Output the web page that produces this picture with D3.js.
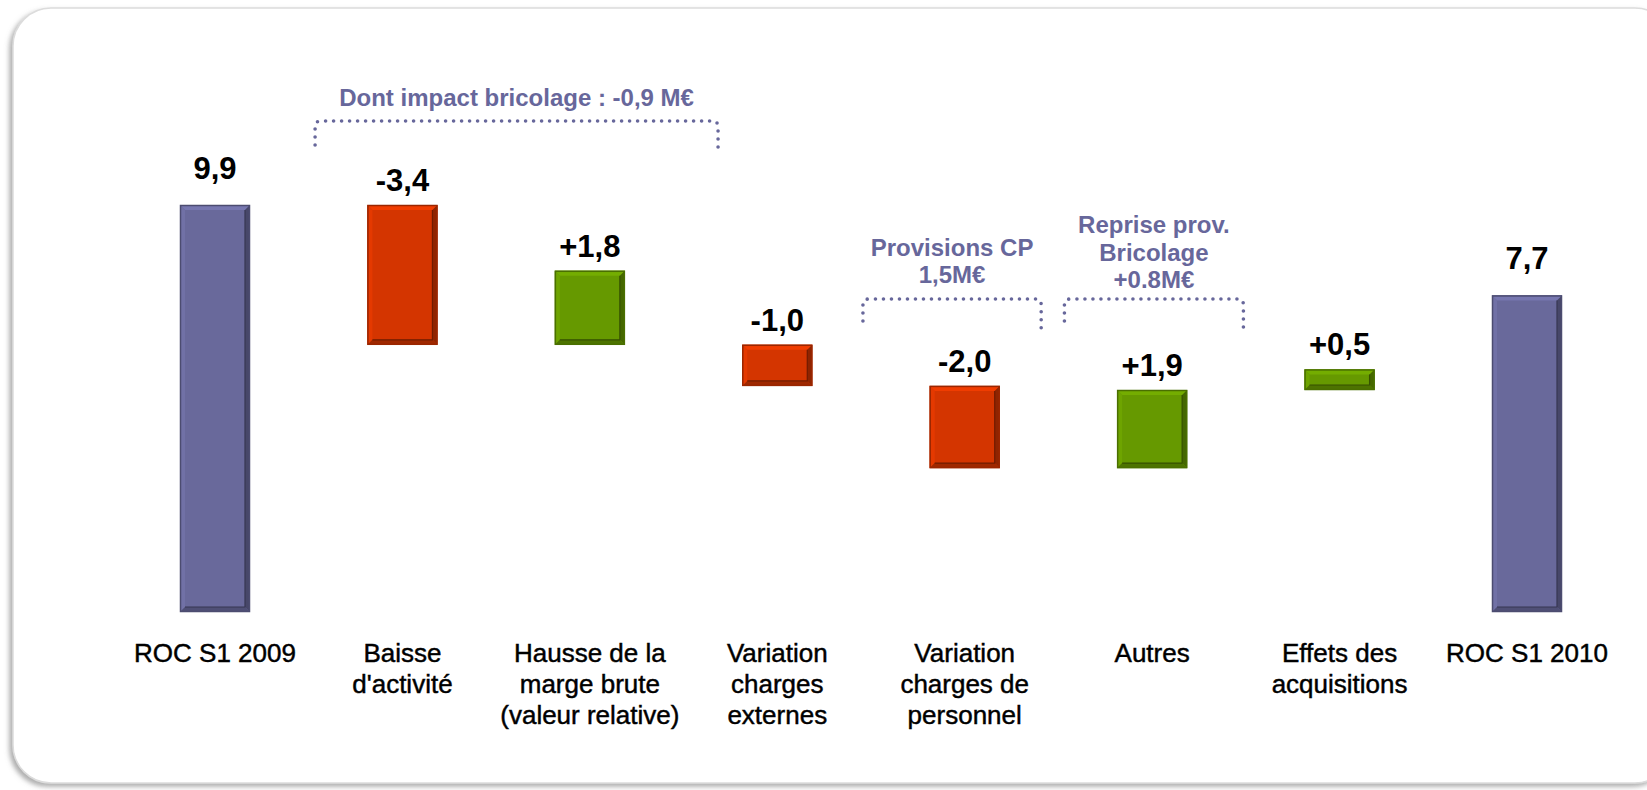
<!DOCTYPE html>
<html>
<head>
<meta charset="utf-8">
<script src="https://cdn.jsdelivr.net/npm/d3@7"></script>
<style>
  html, body { margin: 0; padding: 0; background: #fff; }
  svg { display: block; font-family: Arial, "Liberation Sans", sans-serif; }
</style>
</head>
<body>
<svg id="chart"></svg>
<script>
// categories (one entry per bar, split on line breaks)
const categories = [
  ['ROC S1 2009'],
  ['Baisse', "d'activité"],
  ['Hausse de la', 'marge brute', '(valeur relative)'],
  ['Variation', 'charges', 'externes'],
  ['Variation', 'charges de', 'personnel'],
  ['Autres'],
  ['Effets des', 'acquisitions'],
  ['ROC S1 2010']
];
// variation of each step, and the level where each bar starts (as drawn)
const values = [9.9, -3.4, 1.8, -1.0, -2.0, 1.9, 0.5, 7.7];
const starts = [0, 9.9, 6.5, 6.5, 5.5, 3.5, 5.4, 0];
const kinds = ['total', 'delta', 'delta', 'delta', 'delta', 'delta', 'delta', 'total'];

// notes above some bars
const noteTexts = [
  ['Dont impact bricolage : -0,9 M€'],
  ['Provisions CP', '1,5M€'],
  ['Reprise prov.', 'Bricolage', '+0.8M€']
];

const width = 1647;
const height = 790;

const colors = { total: '#69699b', down: '#d43500', up: '#669900' };
const noteColor = '#67679b';

const svg = d3.select('#chart').attr('width', width).attr('height', height);

// frame
const defs = svg.append('defs');
const shadow = defs.append('filter').attr('id', 'shadow')
  .attr('x', '-5%').attr('y', '-5%').attr('width', '110%').attr('height', '110%');
shadow.append('feDropShadow')
  .attr('dx', -3).attr('dy', 3).attr('stdDeviation', 2.5)
  .attr('flood-color', '#777').attr('flood-opacity', 0.6);

svg.append('rect')
  .attr('x', 13).attr('y', 8)
  .attr('width', 1660).attr('height', 775)
  .attr('rx', 38)
  .attr('fill', '#fff')
  .attr('stroke', '#dcdcdc')
  .attr('stroke-width', 1.5)
  .attr('filter', 'url(#shadow)');

const x = d3.scalePoint()
  .domain(d3.range(categories.length))
  .range([215, 1527]);
// fractional positions (in category units) for the notes
const xi = d3.scaleLinear().domain([0, categories.length - 1]).range(x.range());

const y = d3.scaleLinear().domain([0, 9.9]).range([612, 205]);

const barW = 70;

const bars = values.map((v, i) => {
  const a = starts[i], b = starts[i] + v;
  const kind = kinds[i];
  const col = kind === 'total' ? colors.total : (v < 0 ? colors.down : colors.up);
  return { i, v, kind, col, top: y(Math.max(a, b)), bottom: y(Math.min(a, b)) };
});

const g = svg.append('g');

bars.forEach(d => {
  const x0 = x(d.i) - barW / 2, x1 = x(d.i) + barW / 2;
  const y0 = d.top, y1 = d.bottom;
  const bv = Math.min(5, (y1 - y0) / 4);
  const base = d3.color(d.col);
  const bg = g.append('g');

  bg.append('rect')
    .attr('x', x0).attr('y', y0)
    .attr('width', barW).attr('height', y1 - y0)
    .attr('fill', d.col);

  const poly = (pts, fill) => bg.append('polygon')
    .attr('points', pts.map(p => p.join(',')).join(' '))
    .attr('fill', fill);

  poly([[x0, y0], [x1, y0], [x1 - bv, y0 + bv], [x0 + bv, y0 + bv]], base.brighter(0.35));
  poly([[x0, y0], [x0 + bv, y0 + bv], [x0 + bv, y1 - bv], [x0, y1]], base.brighter(0.2));
  poly([[x1, y0], [x1, y1], [x1 - bv, y1 - bv], [x1 - bv, y0 + bv]], base.darker(1.1));
  poly([[x0, y1], [x1, y1], [x1 - bv, y1 - bv], [x0 + bv, y1 - bv]], base.darker(0.8));

  // inner edge lines
  bg.append('path')
    .attr('d', `M${x1 - bv},${y0 + bv}V${y1 - bv}H${x0 + bv}`)
    .attr('fill', 'none')
    .attr('stroke', base.darker(1.8))
    .attr('stroke-width', 1.2);

  bg.append('rect')
    .attr('x', x0 + 0.5).attr('y', y0 + 0.5)
    .attr('width', barW - 1).attr('height', y1 - y0 - 1)
    .attr('fill', 'none')
    .attr('stroke', base.darker(0.9))
    .attr('stroke-width', 1.5);
});

// value labels
const fmt = (v, kind) => {
  const sign = v < 0 ? '-' : (kind === 'delta' ? '+' : '');
  return sign + Math.abs(v).toFixed(1).replace('.', ',');
};

g.selectAll('text.value')
  .data(bars)
  .join('text')
  .attr('class', 'value')
  .attr('x', d => x(d.i))
  .attr('y', d => d.top - (d.kind === 'total' ? 26 : 14))
  .attr('text-anchor', 'middle')
  .attr('font-size', 31)
  .attr('font-weight', 'bold')
  .attr('fill', '#000')
  .text(d => fmt(d.v, d.kind));

// category labels
const cat = svg.append('g')
  .selectAll('text')
  .data(categories)
  .join('text')
  .attr('x', (d, i) => x(i))
  .attr('y', 662)
  .attr('text-anchor', 'middle')
  .attr('font-size', 26)
  .attr('fill', '#000')
  .attr('stroke', '#000')
  .attr('stroke-width', 0.45);

cat.selectAll('tspan')
  .data(d => d)
  .join('tspan')
  .attr('x', function () { return d3.select(this.parentNode).attr('x'); })
  .attr('dy', (d, j) => j === 0 ? 0 : 31)
  .text(d => d);

// notes with dotted brackets
const noteLayout = [
  { from: 0.534, to: 2.684, top: 121, legL: 145, legR: 152, lastLine: 106 },
  { from: 3.457, to: 4.408, top: 299, legL: 321, legR: 329, lastLine: 283 },
  { from: 4.532, to: 5.487, top: 299, legL: 321, legR: 329, lastLine: 288 }
];

const notes = svg.append('g');

noteTexts.forEach((lines, k) => {
  const L = noteLayout[k];
  const xa = xi(L.from), xb = xi(L.to);
  const r = 6;

  notes.append('path')
    .attr('d', `M${xa},${L.legL}V${L.top + r}Q${xa},${L.top} ${xa + r},${L.top}` +
      `H${xb - r}Q${xb},${L.top} ${xb},${L.top + r}V${L.legR}`)
    .attr('fill', 'none')
    .attr('stroke', noteColor)
    .attr('stroke-width', 3.6)
    .attr('stroke-linecap', 'round')
    .attr('stroke-dasharray', '0 8');

  const lh = 27.5;
  notes.append('text')
    .attr('x', (xa + xb) / 2)
    .attr('text-anchor', 'middle')
    .attr('font-size', 24)
    .attr('font-weight', 'bold')
    .attr('fill', noteColor)
    .selectAll('tspan')
    .data(lines)
    .join('tspan')
    .attr('x', (xa + xb) / 2)
    .attr('y', (d, j) => L.lastLine - (lines.length - 1 - j) * lh)
    .text(d => d);
});
</script>
</body>
</html>
